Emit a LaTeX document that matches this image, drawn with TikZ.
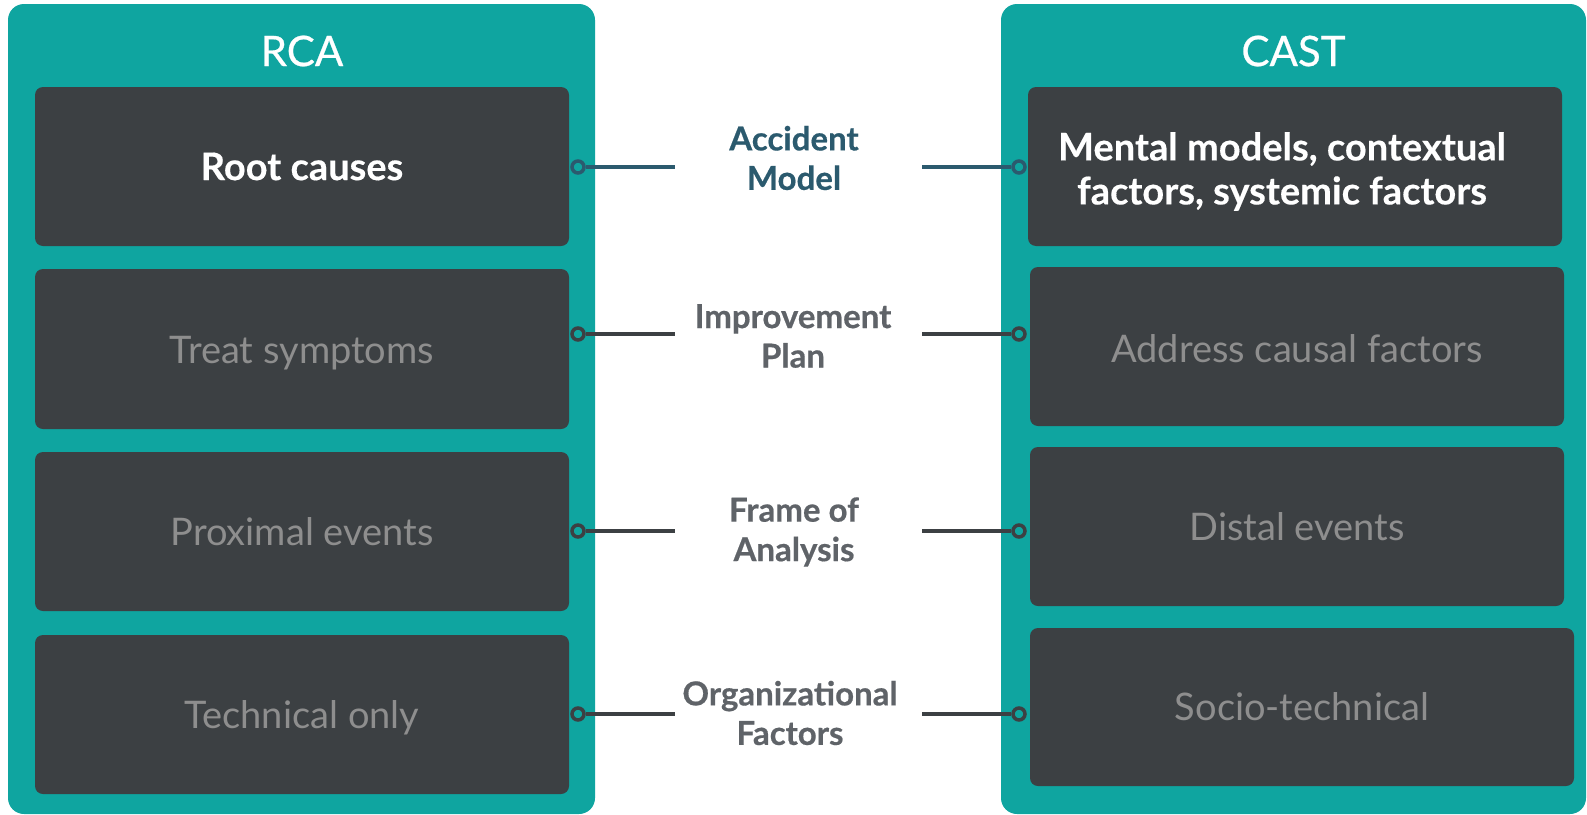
\documentclass[tikz,border=0pt]{standalone}
\usepackage{fontspec}
\setmainfont{Lato}
\newfontfamily\heavyfont{Lato}[BoldFeatures={FakeBold=0.5}]
\newfontfamily\semiheavyfont{Lato}[BoldFeatures={FakeBold=0.3}]
\newfontfamily\titlefont{Lato}[FakeBold=0.6]
\definecolor{tealbg}{HTML}{0FA5A0}
\definecolor{boxdark}{HTML}{3C4043}
\definecolor{boxgray}{HTML}{8E8E8E}
\definecolor{labblue}{HTML}{2B5A6E}
\definecolor{labgray}{HTML}{5F6368}
\newcommand{\lowertext}[2]{\raisebox{-#1}[\height][\depth]{#2}}
\begin{document}
\begin{tikzpicture}[x=1pt,y=-1pt,
  panel/.style={fill=tealbg, rounded corners=16pt, inner sep=0pt},
  darkbox/.style={fill=boxdark, rounded corners=8pt, inner sep=0pt, align=center},
  titletext/.style={text=white, font=\titlefont\fontsize{42}{50}\selectfont},
  boldtext/.style={text=white, font=\semiheavyfont\fontsize{38}{44}\selectfont\bfseries},
  graytext/.style={text=boxgray, font=\fontsize{38}{45}\selectfont},
  midlabel/.style={align=center, font=\heavyfont\fontsize{33}{39.5}\selectfont\bfseries},
  dot/.style={circle, draw, line width=3.5pt, minimum size=12pt, inner sep=0pt, fill=tealbg},
  conn/.style={line width=3.5pt}
]
\useasboundingbox (0,0) rectangle (1587,814);
\fill[white] (0,0) rectangle (1587,814);
% panels
\node[panel, minimum width=587pt, minimum height=810pt] (rca) at (301.5,409) {};
\node[panel, minimum width=585pt, minimum height=810pt] (cast) at (1293.5,409) {};
\node[titletext] (rcat) at (302,51) {RCA};
\node[titletext] (castt) at (1293.5,51) {CAST};
% left boxes
\node[darkbox, minimum width=534pt, minimum height=159pt, boldtext] (l1) at (302,166.5) {Root causes};
\node[darkbox, minimum width=534pt, minimum height=160pt, graytext] (l2) at (302,349) {\lowertext{4pt}{Treat symptoms}};
\node[darkbox, minimum width=534pt, minimum height=159pt, graytext] (l3) at (302,531.5) {Proximal events};
\node[darkbox, minimum width=534pt, minimum height=159pt, graytext] (l4) at (302,714.5) {\lowertext{3pt}{Technical only}};
% right boxes
\node[darkbox, minimum width=534pt, minimum height=159pt] (r1) at (1295,166.5) {};
\node[boldtext, align=center] (r1t) at (1282,171.5) {Mental models, contextual\\factors, systemic factors};
\node[darkbox, minimum width=534pt, minimum height=159pt, graytext] (r2) at (1297,346.5) {\lowertext{2pt}{Address causal factors}};
\node[darkbox, minimum width=534pt, minimum height=159pt, graytext] (r3) at (1297,526.5) {Distal events};
\node[darkbox, minimum width=544pt, minimum height=158pt, graytext] (r4) at (1302,707) {Socio-technical};
% middle labels
\node[midlabel, text=labblue] (m1) at (794,158) {Accident\\Model};
\node[midlabel, text=labgray] (m2) at (793,336) {Improvement\\Plan};
\node[midlabel, text=labgray] (m3) at (794,532) {Frame of\\Analysis};
\node[midlabel, text=labgray] (m4) at (790,713) {Organizational\\Factors};
% connectors
\foreach \i/\yy/\col in {1/167/labblue, 2/334/boxdark, 3/531/boxdark, 4/714/boxdark}{
  \coordinate (el\i) at (675,\yy);
  \coordinate (er\i) at (922,\yy);
  \node[dot, draw=\col] (cl\i) at (578,\yy) {};
  \node[dot, draw=\col] (cr\i) at (1019,\yy) {};
  \draw[conn, draw=\col] (cl\i.east) -- (el\i);
  \draw[conn, draw=\col] (er\i) -- (cr\i.west);
}
\end{tikzpicture}
\end{document}
